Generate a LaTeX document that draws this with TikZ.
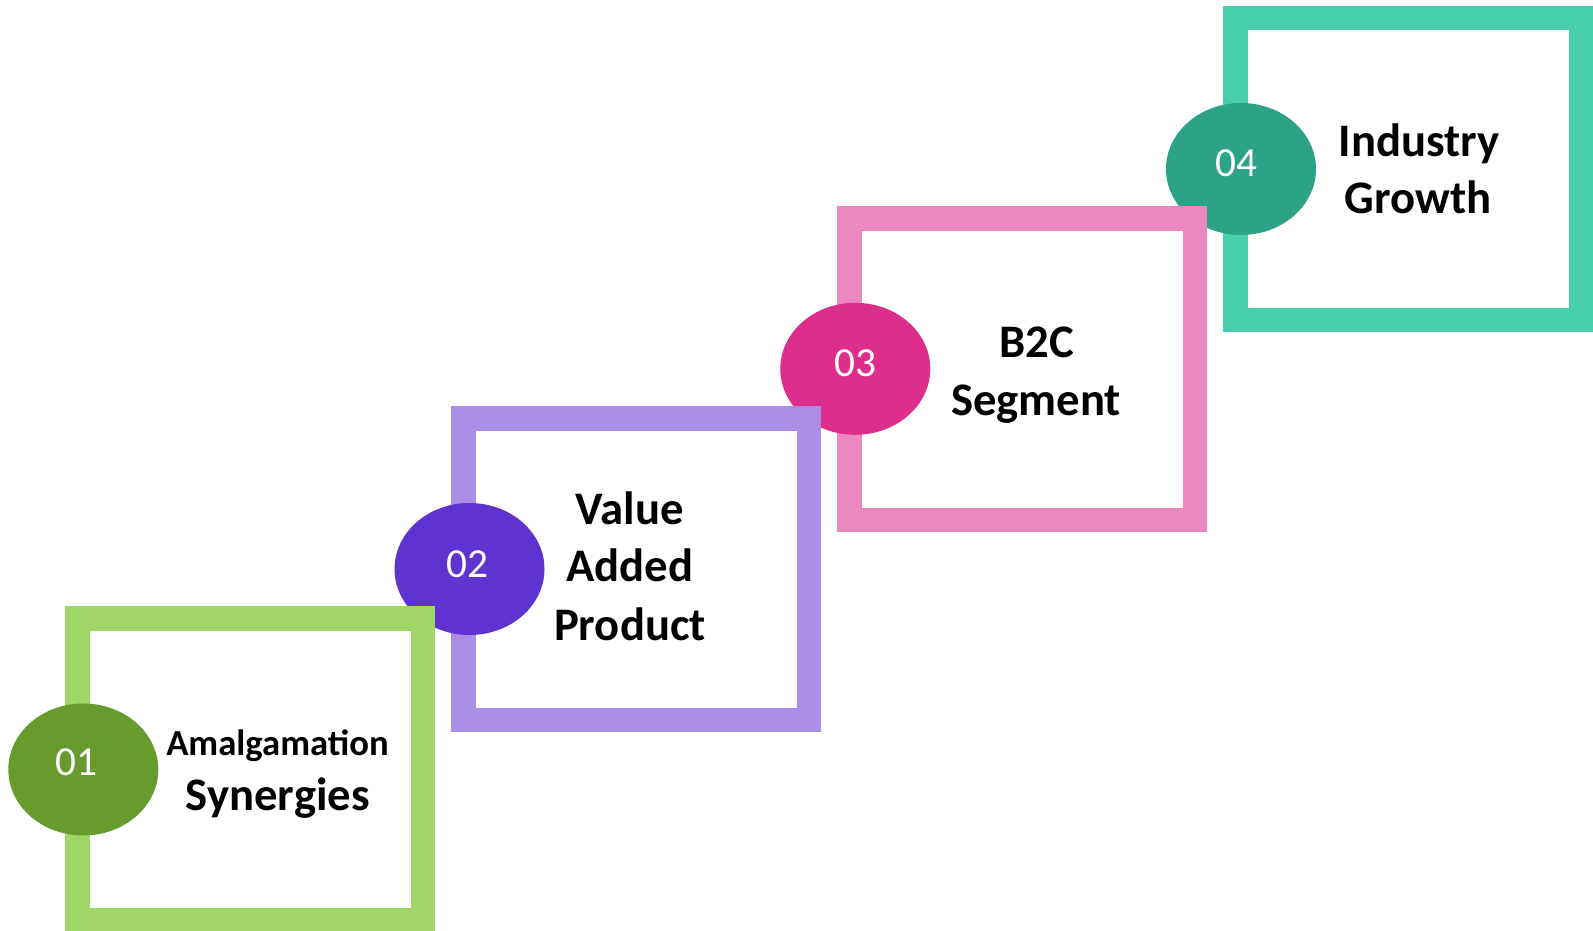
\documentclass[tikz,border=0pt]{standalone}
\usepackage{fontspec}
\setmainfont{Carlito}
\usetikzlibrary{shapes.geometric}
\definecolor{gbox}{RGB}{160,213,104}
\definecolor{gdot}{RGB}{103,155,46}
\definecolor{pbox}{RGB}{169,141,230}
\definecolor{pdot}{RGB}{94,51,207}
\definecolor{kbox}{RGB}{235,136,189}
\definecolor{kdot}{RGB}{221,46,140}
\definecolor{tbox}{RGB}{73,207,174}
\definecolor{tdot}{RGB}{44,163,134}
\tikzset{
  frame/.style={draw=#1, line width=18.375pt, fill=white, rectangle, inner sep=0pt, minimum width=259.125pt, minimum height=226.125pt},
  dot/.style={fill=#1, draw=none, ellipse, inner sep=0pt, minimum width=112.5pt, minimum height=99pt},
  num/.style={text=white, font=\fontsize{31}{37}\selectfont, inner sep=0pt},
  lbl/.style={anchor=base, inner sep=0pt, font=\fontsize{35}{42}\selectfont\bfseries},
  lblsmall/.style={anchor=base, inner sep=0pt, font=\fontsize{27.5}{33}\selectfont\bfseries}
}
\begin{document}
\begin{tikzpicture}[x=0.75pt, y=-0.75pt]
\useasboundingbox (0,0) rectangle (1593,931);
% step 4
\node[frame=tbox] (b4) at (1408,169) {};
\node[dot=tdot] (e4) at (1241,169) {};
\node[num] (n4) at (1236,163.7) {04};
\node[lbl] (t4a) at (1419,156.7) {Industry};
\node[lbl] (t4b) at (1418,213.3) {Growth};
% step 3
\node[frame=kbox] (b3) at (1022,369) {};
\node[dot=kdot] (e3) at (855.3,368.8) {};
\node[num] (n3) at (855.2,362.8) {03};
\node[lbl] (t3a) at (1037,357.7) {B2C};
\node[lbl] (t3b) at (1036,415.7) {Segment};
% step 2
\node[frame=pbox] (b2) at (636,569) {};
\node[dot=pdot] (e2) at (469.5,569) {};
\node[num] (n2) at (467,563.8) {02};
\node[lbl] (t2a) at (629.5,524.3) {Value};
\node[lbl] (t2b) at (629.7,581.7) {Added};
\node[lbl] (t2c) at (630,640) {Product};
% step 1
\node[frame=gbox] (b1) at (250,769) {};
\node[dot=gdot] (e1) at (83.3,769.5) {};
\node[num] (n1) at (76.8,762) {01};
\node[lblsmall] (t1a) at (277.5,755.7) {Amalgamation};
\node[lbl] (t1b) at (277.8,810) {Synergies};
\end{tikzpicture}
\end{document}
